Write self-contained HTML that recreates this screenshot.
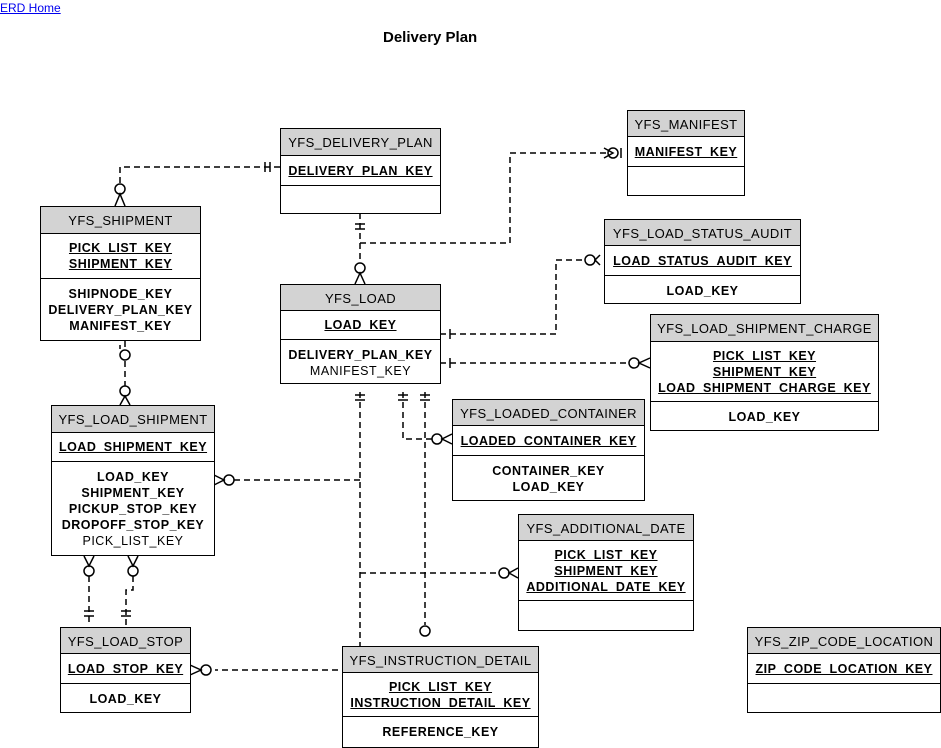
<!DOCTYPE html>
<html><head><meta charset="utf-8"><style>
body{margin:0;width:941px;height:748px;background:#fff;position:relative;font-family:"Liberation Sans",Arial,sans-serif;overflow:hidden}
a{position:absolute;left:0;top:1px;font-size:12px;color:#00e;text-decoration:underline}
h1{position:absolute;left:383px;top:29px;margin:0;font-size:15px;font-weight:bold}
.t{position:absolute;border:1px solid #000;background:#fff;box-sizing:border-box;font-size:12.5px;text-align:center;letter-spacing:0.5px}
.h{background:#d3d3d3;border-bottom:1px solid #000;box-sizing:border-box;display:flex;align-items:center;justify-content:center;font-size:13px;letter-spacing:0.4px;padding-top:1px}
.p{border-bottom:1px solid #000;box-sizing:border-box;font-weight:bold;text-decoration:underline;display:flex;flex-direction:column;justify-content:center;line-height:16px}
.a{font-weight:bold;line-height:16px;padding-top:7px}
.n{font-weight:normal}
svg{position:absolute;left:0;top:0}
</style></head><body>
<a>ERD Home</a>
<h1>Delivery Plan</h1>
<svg width="941" height="748" fill="none" stroke="#000" stroke-width="1.5">
<g stroke-dasharray="6,4">
<path d="M280 167H120V192"/>
<path d="M360 213V262"/>
<path d="M360 243H510V153H610"/>
<path d="M440 334H556V260H585"/>
<path d="M440 363H630"/>
<path d="M403 392V439H432"/>
<path d="M125 341V390"/>
<path d="M360 392V670H215"/>
<path d="M360 480H225"/>
<path d="M360 573H500"/>
<path d="M425 392V625"/>
<path d="M89 576V626"/>
<path d="M133 576V590H126V626"/>
</g>
<g fill="#fff">
<circle cx="120" cy="189" r="5"/><circle cx="360" cy="268" r="5"/><circle cx="613" cy="153" r="5"/>
<circle cx="590" cy="260" r="5"/><circle cx="634" cy="363" r="5"/><circle cx="437" cy="439" r="5"/>
<circle cx="125" cy="355" r="5"/><circle cx="125" cy="391" r="5"/><circle cx="229" cy="480" r="5"/>
<circle cx="504" cy="573" r="5"/><circle cx="425" cy="631" r="5"/><circle cx="206" cy="670" r="5"/>
<circle cx="89" cy="571" r="5"/><circle cx="133" cy="571" r="5"/>
</g>
<path d="M265 162V172M270 162V172M355 224H365M355 229H365M621 148V158M450 329V339M450 358V368M355 395H365M355 400H365M398 395H408M398 400H408M420 395H430M420 400H430M120 345V349M84 611H94M84 616H94M121 611H131M121 616H131"/>
<path d="M115 206L120 194L125 206M355 284L360 273L365 284M604 148L613 153L604 158M600 255L595 260L600 265M650 358L639 363L650 368M452 434L442 439L452 444M120 405L125 396L130 405M214 475L224 480L214 485M518 568L509 573L518 578M190 665L201 670L190 675M84 556L89 566L94 556M128 556L133 566L138 556"/>
</svg>
<div class="t" style="left:280px;top:128px;width:161px;height:86px"><div class="h" style="height:27px">YFS_DELIVERY_PLAN</div><div class="p" style="height:30px">DELIVERY_PLAN_KEY</div></div>
<div class="t" style="left:627px;top:110px;width:118px;height:86px"><div class="h" style="height:26px">YFS_MANIFEST</div><div class="p" style="height:30px">MANIFEST_KEY</div></div>
<div class="t" style="left:40px;top:206px;width:161px;height:135px"><div class="h" style="height:27px">YFS_SHIPMENT</div><div class="p" style="height:45px">PICK_LIST_KEY<br>SHIPMENT_KEY</div><div class="a">SHIPNODE_KEY<br>DELIVERY_PLAN_KEY<br>MANIFEST_KEY</div></div>
<div class="t" style="left:604px;top:219px;width:197px;height:85px"><div class="h" style="height:26px">YFS_LOAD_STATUS_AUDIT</div><div class="p" style="height:30px">LOAD_STATUS_AUDIT_KEY</div><div class="a">LOAD_KEY</div></div>
<div class="t" style="left:280px;top:284px;width:161px;height:100px"><div class="h" style="height:26px">YFS_LOAD</div><div class="p" style="height:29px">LOAD_KEY</div><div class="a">DELIVERY_PLAN_KEY<br><span class="n">MANIFEST_KEY</span></div></div>
<div class="t" style="left:650px;top:314px;width:229px;height:117px"><div class="h" style="height:27px">YFS_LOAD_SHIPMENT_CHARGE</div><div class="p" style="height:60px">PICK_LIST_KEY<br>SHIPMENT_KEY<br>LOAD_SHIPMENT_CHARGE_KEY</div><div class="a">LOAD_KEY</div></div>
<div class="t" style="left:51px;top:405px;width:164px;height:151px"><div class="h" style="height:27px">YFS_LOAD_SHIPMENT</div><div class="p" style="height:29px">LOAD_SHIPMENT_KEY</div><div class="a">LOAD_KEY<br>SHIPMENT_KEY<br>PICKUP_STOP_KEY<br>DROPOFF_STOP_KEY<br><span class="n">PICK_LIST_KEY</span></div></div>
<div class="t" style="left:452px;top:399px;width:193px;height:102px"><div class="h" style="height:26px">YFS_LOADED_CONTAINER</div><div class="p" style="height:30px">LOADED_CONTAINER_KEY</div><div class="a">CONTAINER_KEY<br>LOAD_KEY</div></div>
<div class="t" style="left:518px;top:514px;width:176px;height:117px"><div class="h" style="height:26px">YFS_ADDITIONAL_DATE</div><div class="p" style="height:60px">PICK_LIST_KEY<br>SHIPMENT_KEY<br>ADDITIONAL_DATE_KEY</div></div>
<div class="t" style="left:60px;top:627px;width:131px;height:86px"><div class="h" style="height:26px">YFS_LOAD_STOP</div><div class="p" style="height:30px">LOAD_STOP_KEY</div><div class="a">LOAD_KEY</div></div>
<div class="t" style="left:342px;top:646px;width:197px;height:102px"><div class="h" style="height:26px">YFS_INSTRUCTION_DETAIL</div><div class="p" style="height:44px">PICK_LIST_KEY<br>INSTRUCTION_DETAIL_KEY</div><div class="a">REFERENCE_KEY</div></div>
<div class="t" style="left:747px;top:627px;width:194px;height:86px"><div class="h" style="height:26px">YFS_ZIP_CODE_LOCATION</div><div class="p" style="height:30px">ZIP_CODE_LOCATION_KEY</div></div>
</body></html>
